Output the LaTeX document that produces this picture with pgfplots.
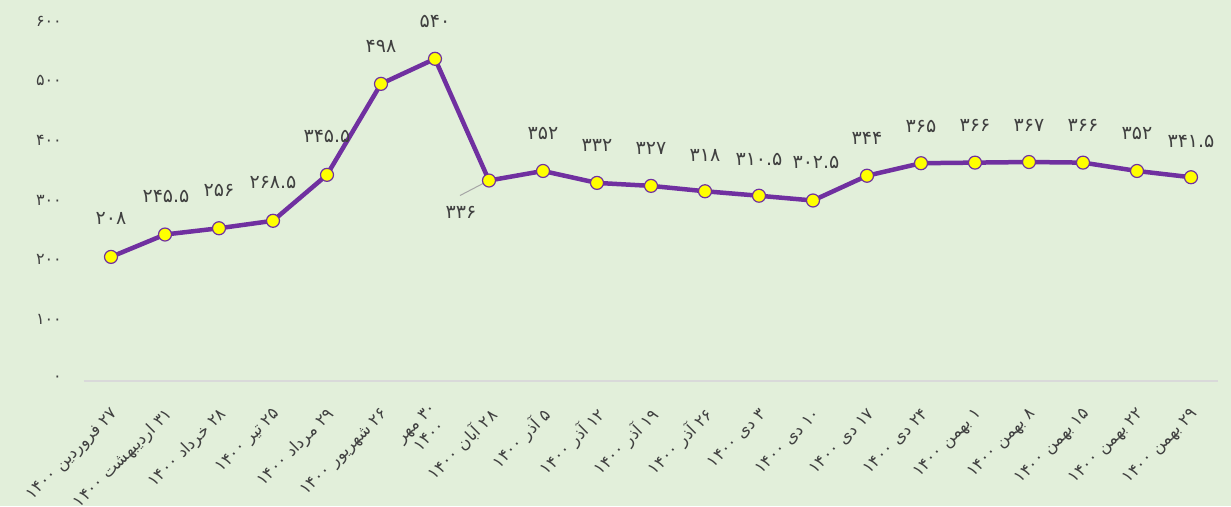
\documentclass[border=0pt]{standalone}
\usepackage{pgfplots}
\pgfplotsset{compat=1.18}
\usepackage{pgfplotstable}
\usepackage{fontspec}
\TeXXeTstate=1
\newfontfamily\arabicfont[Script=Arabic]{DejaVu Sans}
\definecolor{bg}{HTML}{E2EFDA}
\definecolor{lineP}{HTML}{7030A0}
\definecolor{markY}{HTML}{FFFF00}
\definecolor{txt}{HTML}{404040}
\definecolor{axgray}{HTML}{D9D9D9}
\newcommand{\R}[1]{\beginR #1\endR}

\pgfplotstableread{
x y label dx dy
0 208 ۲۰۸ 0 38
1 245.5 ۲۴۵.۵ 1 38
2 256 ۲۵۶ 0 38
3 268.5 ۲۶۸.۵ 0 38
4 345.5 ۳۴۵.۵ 0 38
5 498 ۴۹۸ 0 37
6 540 ۵۴۰ 0 37
7 336 ۳۳۶ -28 -32
8 352 ۳۵۲ 0 38
9 332 ۳۳۲ 0 37
10 327 ۳۲۷ 0 37
11 318 ۳۱۸ 0 36
12 310.5 ۳۱۰.۵ 0 36
13 302.5 ۳۰۲.۵ 3 38
14 344 ۳۴۴ 0 37
15 365 ۳۶۵ 0 37
16 366 ۳۶۶ 0 37
17 367 ۳۶۷ 0 37
18 366 ۳۶۶ 0 37
19 352 ۳۵۲ 0 38
20 341.5 ۳۴۱.۵ 0 36
}\datatable

\begin{document}
\begin{tikzpicture}
\fill[bg] (-84pt,-125pt) rectangle (1147pt,381pt);
\begin{axis}[
  at={(0pt,0pt)}, anchor=south west,
  scale only axis, width=1134pt, height=358pt,
  xmin=-0.5, xmax=20.5, ymin=0, ymax=600,
  axis lines*=left,
  x axis line style={draw=axgray, line width=1.5pt},
  y axis line style={draw=none},
  major tick length=0pt,
  tick style={draw=none},
  xtick={0,...,20},
  ytick={0,100,...,600},
  yticklabels={۰,۱۰۰,۲۰۰,۳۰۰,۴۰۰,۵۰۰,۶۰۰},
  yticklabel style={font=\fontsize{16}{18}\selectfont\arabicfont, text=txt, inner sep=0pt, anchor=east, xshift=-22pt, yshift=2pt},
  xticklabels={
    {\R{۲۷ فروردین ۱۴۰۰}},
    {\R{۳۱ اردیبهشت ۱۴۰۰}},
    {\R{۲۸ خرداد ۱۴۰۰}},
    {\R{۲۵ تیر ۱۴۰۰}},
    {\R{۲۹ مرداد ۱۴۰۰}},
    {\R{۲۶ شهریور ۱۴۰۰}},
    {\R{۳۰ مهر}\\\R{۱۴۰۰}},
    {\R{۲۸ آبان ۱۴۰۰}},
    {\R{۵ آذر ۱۴۰۰}},
    {\R{۱۲ آذر ۱۴۰۰}},
    {\R{۱۹ آذر ۱۴۰۰}},
    {\R{۲۶ آذر ۱۴۰۰}},
    {\R{۳ دی ۱۴۰۰}},
    {\R{۱۰ دی ۱۴۰۰}},
    {\R{۱۷ دی ۱۴۰۰}},
    {\R{۲۴ دی ۱۴۰۰}},
    {\R{۱ بهمن ۱۴۰۰}},
    {\R{۸ بهمن ۱۴۰۰}},
    {\R{۱۵ بهمن ۱۴۰۰}},
    {\R{۲۲ بهمن ۱۴۰۰}},
    {\R{۲۹ بهمن ۱۴۰۰}}
  },
  xticklabel style={font=\fontsize{16.5}{19}\selectfont\arabicfont, text=txt, inner sep=0pt, xshift=5pt, yshift=-31pt, rotate=45, anchor=east, align=center},
  clip=false,
]
\addplot[
  color=lineP, line width=4.5pt,
  mark=*, mark size=6.5pt,
  mark options={fill=markY, draw=lineP, line width=1.2pt},
  point meta=explicit symbolic,
  visualization depends on={\thisrow{dx} \as \ldx},
  visualization depends on={\thisrow{dy} \as \ldy},
  nodes near coords,
  nodes near coords style={font=\fontsize{19}{22}\selectfont\arabicfont, text=txt, anchor=center, xshift=\ldx pt, yshift=\ldy pt},
] table[x=x, y=y, meta=label] {\datatable};
\draw[gray!70, line width=1pt] ([xshift=-29pt,yshift=-15pt]axis cs:7,336) -- ([xshift=-6pt,yshift=-3pt]axis cs:7,336);
\end{axis}
\pgfresetboundingbox
\path[use as bounding box] (-84pt,-125pt) rectangle (1147pt,381pt);
\end{tikzpicture}
\end{document}
